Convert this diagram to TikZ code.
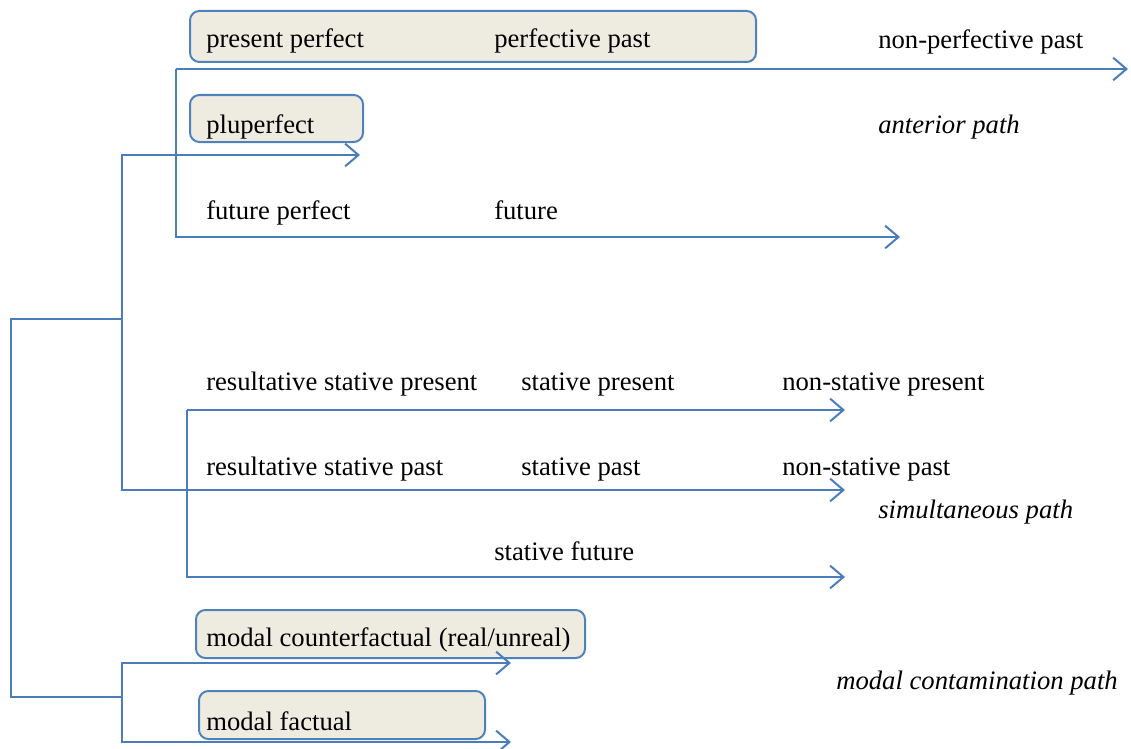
\documentclass[tikz,border=0pt]{standalone}
\usepackage{fontspec}
\setmainfont{Liberation Serif}
\usetikzlibrary{arrows.meta}
\definecolor{pathblue}{HTML}{4A7EBB}
\definecolor{boxfill}{HTML}{EEECE1}
\definecolor{boxline}{HTML}{4F81BD}

\begin{document}
\begin{tikzpicture}[x=0.75pt, y=-0.75pt,
  conn/.style={draw=pathblue, line width=1.5pt},
  arr/.style={conn, -{Straight Barb[length=10pt, width=17pt, line width=1.5pt]}},
  tense/.style={anchor=base west, inner sep=0pt, font=\fontsize{20}{24}\selectfont},
  pathname/.style={tense, font=\fontsize{20}{24}\selectfont\itshape},
  groupbox/.style={draw=boxline, fill=boxfill, line width=1.5pt, rounded corners=7pt,
    anchor=north west, inner sep=0pt}]
\useasboundingbox (0,0) rectangle (1131,749);

% boxes
\node[groupbox, minimum width={566*0.75pt}, minimum height={51*0.75pt}] (perfbox) at (189,10) {};
\node[groupbox, minimum width={173*0.75pt}, minimum height={47*0.75pt}] (plubox) at (189,94) {};
\node[groupbox, minimum width={389*0.75pt}, minimum height={48*0.75pt}] (cfbox) at (195,609) {};
\node[groupbox, minimum width={286*0.75pt}, minimum height={48*0.75pt}] (factbox) at (198,690) {};

% junctions and arrow ends
\coordinate (rt) at (11,319);
\coordinate (rb) at (11,697);
\coordinate (upj) at (122,319);
\coordinate (uptop) at (122,155);
\coordinate (upbot) at (122,490);
\coordinate (pluend) at (360,155);
\coordinate (spend) at (845,490);
\coordinate (anttop) at (176,69);
\coordinate (antbot) at (176,237);
\coordinate (npend) at (1128,69);
\coordinate (futend) at (900,237);
\coordinate (simtop) at (187,410);
\coordinate (simbot) at (187,577);
\coordinate (sprend) at (845,410);
\coordinate (sfend) at (845,577);
\coordinate (modj) at (122,697);
\coordinate (modtop) at (122,663);
\coordinate (modbot) at (122,742);
\coordinate (cfend) at (511,663);
\coordinate (factend) at (511,742);

% connectors
\draw[conn] (upj) -- (rt) -- (rb) -- (modj);
\draw[arr] (upj) -- (uptop) -- (pluend);
\draw[arr] (upj) -- (upbot) -- (spend);
\draw[arr] (anttop) -- (npend);
\draw[arr] (anttop) -- (antbot) -- (futend);
\draw[arr] (simtop) -- (sprend);
\draw[arr] (simtop) -- (simbot) -- (sfend);
\draw[arr] (modj) -- (modtop) -- (cfend);
\draw[arr] (modj) -- (modbot) -- (factend);

% labels
\node[tense] (prsperf) at (206,48) {present perfect};
\node[tense] (pfvpast) at (494,48) {perfective past};
\node[tense] (npfvpast) at (878,49) {non-perfective past};
\node[tense] (pluperf) at (206,133) {pluperfect};
\node[pathname] (antpath) at (878,133) {anterior path};
\node[tense] (futperf) at (206,219) {future perfect};
\node[tense] (fut) at (494,219) {future};
\node[tense] (rsprs) at (206,390) {resultative stative present};
\node[tense] (sprs) at (521,390) {stative present};
\node[tense] (nsprs) at (782,390) {non-stative present};
\node[tense] (rspst) at (206,475) {resultative stative past};
\node[tense] (spst) at (521,475) {stative past};
\node[tense] (nspst) at (782,475) {non-stative past};
\node[pathname] (simpath) at (878,518) {simultaneous path};
\node[tense] (sfut) at (494,560) {stative future};
\node[tense] (modcf) at (206,646) {modal counterfactual (real/unreal)};
\node[pathname] (modpath) at (836,689) {modal contamination path};
\node[tense] (modfact) at (206,730) {modal factual};
\end{tikzpicture}
\end{document}
